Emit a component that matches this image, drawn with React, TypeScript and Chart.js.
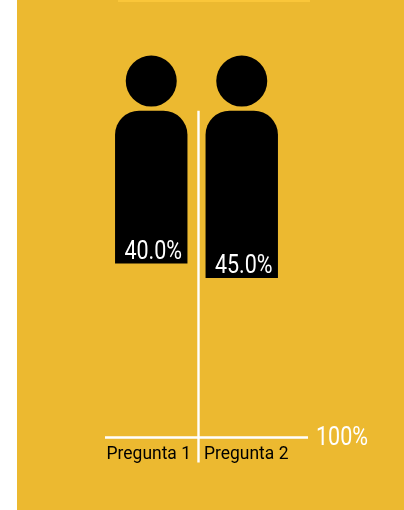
import React, { useEffect, useRef } from "react";
import { Chart, registerables } from "chart.js";

Chart.register(...registerables);

const categories = ["Pregunta 1", "Pregunta 2"];
const percentValues = [40, 45];
const valueLabels = ["40.0%", "45.0%"];
const shoulderLevel = -12.7;
const headLevel = -22.9;
const axisEndLabel = "100%";

const panelColor = "#ECB930";
const ink = "#000000";
const white = "#FFFFFF";

const numberFont = "400 25px Roboto, sans-serif";
const categoryFont = "18px Roboto, sans-serif";

// Text drawn with a horizontal squeeze, for the condensed look of the captions.
function squeezedText(ctx: any, text: string, x: number, y: number, squeeze: number) {
  ctx.save();
  ctx.translate(x, y);
  ctx.scale(squeeze, 1);
  ctx.fillText(text, 0, 0);
  ctx.restore();
}

// Draws the white axis cross and every caption from the chart's own scales.
const figureDecor = {
  id: "figureDecor",
  afterDatasetsDraw(chart: any) {
    const { ctx, scales } = chart;
    const axisY = scales.y.getPixelForValue(100);
    const topY = scales.y.getPixelForValue(shoulderLevel);
    const midX = (scales.x.getPixelForValue(0) + scales.x.getPixelForValue(1)) / 2 + 2;

    ctx.save();
    ctx.strokeStyle = white;
    ctx.lineWidth = 2.4;
    ctx.beginPath();
    ctx.moveTo(midX, topY);
    ctx.lineTo(midX, axisY + 25);
    ctx.moveTo(105, axisY);
    ctx.lineTo(308, axisY);
    ctx.stroke();

    ctx.textBaseline = "alphabetic";
    ctx.fillStyle = white;
    ctx.font = numberFont;
    ctx.textAlign = "center";
    const bars = chart.getDatasetMeta(0).data;
    bars.forEach((bar: any, i: number) => {
      squeezedText(ctx, valueLabels[i], bar.x + 2, bar.y - 5, 0.86);
    });
    ctx.textAlign = "left";
    squeezedText(ctx, axisEndLabel, 316, axisY + 7, 0.86);

    ctx.fillStyle = ink;
    ctx.font = categoryFont;
    ctx.textAlign = "right";
    squeezedText(ctx, categories[0], midX - 7.5, axisY + 21, 0.97);
    ctx.textAlign = "left";
    squeezedText(ctx, categories[1], midX + 5.5, axisY + 21, 0.97);
    ctx.restore();
  },
};

export default function App() {
  const canvasRef = useRef<HTMLCanvasElement>(null);

  useEffect(() => {
    const chart = new Chart(canvasRef.current as HTMLCanvasElement, {
      type: "bar",
      data: {
        labels: categories,
        datasets: [
          {
            type: "bar",
            data: percentValues,
            base: shoulderLevel,
            backgroundColor: ink,
            barPercentage: 0.8,
            categoryPercentage: 1,
            borderSkipped: false,
            borderRadius: { topLeft: 24, topRight: 24, bottomLeft: 0, bottomRight: 0 },
            order: 1,
          },
          {
            type: "line",
            data: categories.map(() => headLevel),
            showLine: false,
            pointRadius: 25.5,
            pointHoverRadius: 25.5,
            pointBackgroundColor: ink,
            pointBorderWidth: 0,
            order: 2,
          },
        ],
      } as any,
      options: {
        responsive: false,
        animation: false,
        layout: { autoPadding: false, padding: { left: 106, right: 117, top: 2.5, bottom: 14.5 } },
        plugins: { legend: { display: false }, tooltip: { enabled: false } },
        scales: {
          x: { display: false, type: "category" },
          y: { display: false, type: "linear", reverse: true, min: -50, max: 120 },
        },
      },
      plugins: [figureDecor],
    });
    return () => chart.destroy();
  }, []);

  return (
    <div style={{ position: "fixed", left: 0, top: 0, width: 404, height: 510, background: "#FFFFFF" }}>
      <div style={{ position: "absolute", left: 17, top: 0, width: 387, height: 510, background: panelColor }} />
      <div style={{ position: "absolute", left: 118, top: 0, width: 192, height: 1.5, background: "#FAC63A" }} />
      <canvas ref={canvasRef} width={404} height={510} style={{ position: "absolute", left: 0, top: 0, display: "block" }} />
    </div>
  );
}
